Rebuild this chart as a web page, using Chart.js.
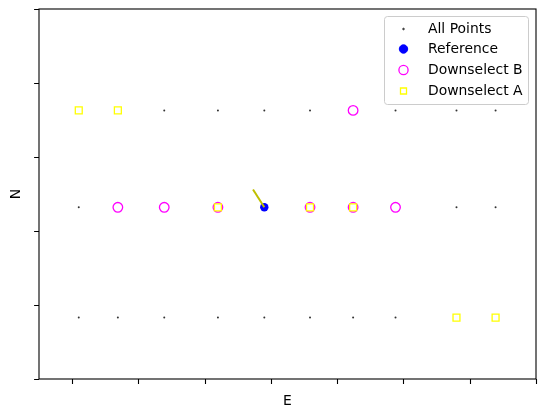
<!DOCTYPE html>
<html>
<head>
<meta charset="utf-8">
<script src="https://cdn.jsdelivr.net/npm/chart.js@4"></script>
<style>
  html, body { margin: 0; padding: 0; background: #fff; }
  canvas { display: block; }
</style>
</head>
<body>
<canvas id="plot" width="545" height="418"></canvas>
<script>
// grid of candidate points
const columnsE = [1.10, 1.69, 2.39, 3.20, 3.90, 4.59, 5.24, 5.88, 6.80, 7.39];
const rowsN = [3.63, 2.32, 0.83];

const refE = [3.90];
const refN = [2.32];

const bE = [5.24, 1.69, 2.39, 3.20, 4.59, 5.24, 5.88];
const bN = [3.63, 2.32, 2.32, 2.32, 2.32, 2.32, 2.32];

const aE = [1.10, 1.69, 3.20, 4.59, 5.24, 6.80, 7.39];
const aN = [3.63, 3.63, 2.32, 2.32, 2.32, 0.83, 0.83];

// heading segment ending at the reference point
const headE = [3.73, 3.90];
const headN = [2.56, 2.32];

const xTicks = [1, 2, 3, 4, 5, 6, 7, 8];
const yTicks = [0, 1, 2, 3, 4, 5];

const toPts = (xs, ys) => xs.map((x, i) => ({ x: x, y: ys[i] }));
const allPts = [];
rowsN.forEach(n => columnsE.forEach(e => allPts.push({ x: e, y: n })));

const FONT = '13.9px "DejaVu Sans"';

// axes frame, tick marks, axis titles and legend like matplotlib
const mplAxes = {
    id: 'mplAxes',
    afterDraw(chart) {
        const ctx = chart.ctx;
        const a = chart.chartArea;
        const sx = chart.scales.x, sy = chart.scales.y;
        ctx.save();
        ctx.strokeStyle = '#000';
        ctx.lineWidth = 1.1;
        ctx.strokeRect(a.left, a.top, a.right - a.left, a.bottom - a.top);
        ctx.beginPath();
        xTicks.forEach(t => {
            const px = Math.round(sx.getPixelForValue(t)) + 0.5;
            ctx.moveTo(px, a.bottom);
            ctx.lineTo(px, a.bottom + 4.9);
        });
        yTicks.forEach(t => {
            const py = Math.round(sy.getPixelForValue(t)) + 0.5;
            ctx.moveTo(a.left, py);
            ctx.lineTo(a.left - 4.9, py);
        });
        ctx.stroke();

        ctx.fillStyle = '#000';
        ctx.font = FONT;
        ctx.textAlign = 'center';
        ctx.textBaseline = 'middle';
        ctx.fillText('E', (a.left + a.right) / 2, 401);
        ctx.save();
        ctx.translate(16, (a.top + a.bottom) / 2);
        ctx.rotate(-Math.PI / 2);
        ctx.fillText('N', 0, 0);
        ctx.restore();

        // legend
        const bx = 384.5, by = 16.5, bw = 144, bh = 88, r = 3;
        ctx.beginPath();
        ctx.moveTo(bx + r, by);
        ctx.arcTo(bx + bw, by, bx + bw, by + bh, r);
        ctx.arcTo(bx + bw, by + bh, bx, by + bh, r);
        ctx.arcTo(bx, by + bh, bx, by, r);
        ctx.arcTo(bx, by, bx + bw, by, r);
        ctx.closePath();
        ctx.fillStyle = 'rgba(255,255,255,0.8)';
        ctx.fill();
        ctx.strokeStyle = '#cccccc';
        ctx.lineWidth = 1;
        ctx.stroke();

        const rowsY = [29, 49, 70, 91];
        const mx = 403.5;
        const items = chart.data.datasets.filter(d => d.label);
        items.forEach((d, i) => {
            const y = rowsY[i];
            ctx.beginPath();
            if (d.pointStyle === 'rect') {
                const s = 3;
                ctx.rect(mx - s, y - s, 2 * s, 2 * s);
            } else {
                ctx.arc(mx, y, d.legendR, 0, Math.PI * 2);
            }
            if (d.legendFill) {
                ctx.fillStyle = d.backgroundColor;
                ctx.fill();
            }
            ctx.strokeStyle = d.borderColor;
            ctx.lineWidth = d.pointBorderWidth || 1;
            ctx.stroke();
            ctx.fillStyle = '#000';
            ctx.textAlign = 'left';
            ctx.fillText(d.label, 428, y);
        });
        ctx.restore();
    }
};

new Chart(document.getElementById('plot'), {
    type: 'scatter',
    data: {
        datasets: [
            {
                label: 'All Points',
                data: allPts,
                pointStyle: 'circle',
                pointRadius: 1,
                backgroundColor: '#333333',
                borderColor: '#333333',
                pointBorderWidth: 0,
                legendR: 0.8,
                legendFill: true,
                order: 4
            },
            {
                label: 'Reference',
                data: toPts(refE, refN),
                pointStyle: 'circle',
                pointRadius: 4.2,
                backgroundColor: '#0000ff',
                borderColor: '#0000ff',
                pointBorderWidth: 0,
                legendR: 4.2,
                legendFill: true,
                order: 3
            },
            {
                label: 'Downselect B',
                data: toPts(bE, bN),
                pointStyle: 'circle',
                pointRadius: 4.8,
                backgroundColor: '#ffffff',
                borderColor: '#ff00ff',
                pointBorderWidth: 1.3,
                legendR: 4.6,
                legendFill: false,
                order: 1
            },
            {
                label: 'Downselect A',
                data: toPts(aE, aN),
                pointStyle: 'rect',
                pointRadius: 4.9,
                backgroundColor: '#ffffff',
                borderColor: '#ffff00',
                pointBorderWidth: 1.3,
                legendFill: false,
                order: 0
            },
            {
                data: toPts(headE, headN),
                showLine: true,
                pointRadius: 0,
                borderColor: '#bfbf00',
                borderWidth: 2,
                order: 2
            }
        ]
    },
    options: {
        responsive: false,
        animation: false,
        events: [],
        layout: { padding: { left: 39, right: 9, top: 9, bottom: 39 } },
        scales: {
            x: { type: 'linear', min: 0.5, max: 8, display: false },
            y: { type: 'linear', min: 0, max: 5, display: false }
        },
        plugins: {
            legend: { display: false },
            tooltip: { enabled: false }
        }
    },
    plugins: [mplAxes]
});
</script>
</body>
</html>
